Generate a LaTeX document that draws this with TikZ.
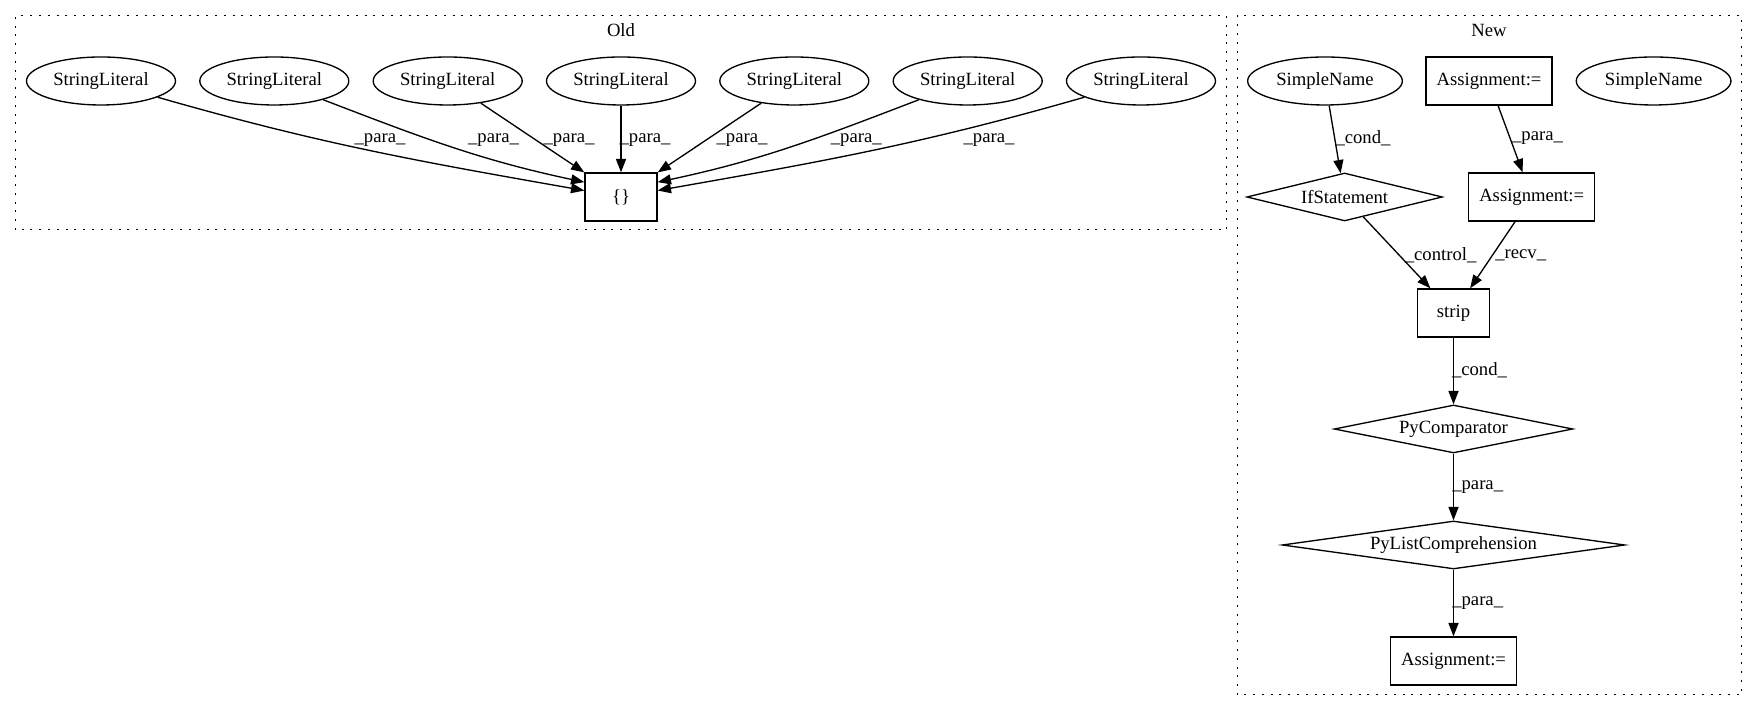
\documentclass[tikz,border=0pt]{standalone}
\usepackage{fontspec}
\setmainfont{Liberation Serif}
\usetikzlibrary{shapes.geometric,arrows.meta}

\begin{document}
\begin{tikzpicture}[x=0.75pt, y=0.75pt, line width=1pt,
  every node/.style={font=\fontsize{14pt}{16pt}\selectfont, inner sep=0pt},
  lit/.style={draw, ellipse, minimum width=111.75pt, minimum height=36pt},
  sname/.style={draw, ellipse, minimum width=116pt, minimum height=36pt},
  stmt/.style={draw, rectangle, minimum width=54pt, minimum height=36pt},
  cond/.style 2 args={draw, diamond, minimum width=#1pt, minimum height=36pt, aspect=#2},
  clust/.style={draw, line width=0.75pt, dash pattern=on 1.5pt off 5.1pt},
  edge/.style={-{Triangle[length=10pt, width=7.5pt]}}]
\useasboundingbox (0,0) rectangle (1757,712);

% Old
\draw[clust] (15.7,482) rectangle (1226.6,696.3);
\node (old) at (621,682) {Old};

\node[lit] (s1) at (101,631) {StringLiteral};
\node[lit] (s2) at (274.3,631) {StringLiteral};
\node[lit] (s3) at (447.7,631) {StringLiteral};
\node[lit] (s4) at (621,631) {StringLiteral};
\node[lit] (s5) at (794.3,631) {StringLiteral};
\node[lit] (s6) at (967.7,631) {StringLiteral};
\node[lit] (s7) at (1141,631) {StringLiteral};
\node[stmt] (box) at (621,515) {\{\}};

\draw[edge] (s1) to[out=-16, in=170] (box.170);
\draw[edge] (s2) to[out=-21, in=168] (box.158);
\draw[edge] (s3) -- (box);
\draw[edge] (s4) -- (box);
\draw[edge] (s5) -- (box);
\draw[edge] (s6) to[out=-159, in=12] (box.22);
\draw[edge] (s7) to[out=-164, in=10] (box.10);

\node (p1) at (380,572) {\_para\_};
\node (p2) at (493.5,572) {\_para\_};
\node (p3) at (569,572) {\_para\_};
\node (p4) at (645,572) {\_para\_};
\node (p5) at (742,572) {\_para\_};
\node (p6) at (856.3,572) {\_para\_};
\node (p7) at (989,572) {\_para\_};

% New
\draw[clust] (1237,17) rectangle (1741.5,696.3);
\node (new) at (1489,682) {New};

\node[sname] (sn1) at (1325,631) {SimpleName};
\node[stmt, minimum width=94.5pt] (a1) at (1489,631) {Assignment:=};
\node[sname] (sn2) at (1653.6,631) {SimpleName};
\node[cond={146.7}{4.07}] (ifs) at (1344.6,515) {IfStatement};
\node[stmt, minimum width=94.5pt] (a2) at (1531.7,515) {Assignment:=};
\node[stmt] (strip) at (1453.5,399) {strip};
\node[cond={179}{4.97}] (cmp) at (1453.5,283) {PyComparator};
\node[cond={257}{7.14}] (lc) at (1453.5,167) {PyListComprehension};
\node[stmt, minimum width=94.5pt] (a3) at (1453.5,51) {Assignment:=};

\draw[edge] (sn1) -- (ifs);
\draw[edge] (a1) -- (a2);
\draw[edge] (ifs) -- (strip);
\draw[edge] (a2) -- (strip);
\draw[edge] (strip) -- (cmp);
\draw[edge] (cmp) -- (lc);
\draw[edge] (lc) -- (a3);

\node (c1) at (1363,573.7) {\_cond\_};
\node (c2) at (1537.5,573.7) {\_para\_};
\node (c3) at (1440.6,457) {\_control\_};
\node (c4) at (1520.7,457) {\_recv\_};
\node (c5) at (1479.5,342) {\_cond\_};
\node (c6) at (1477.7,225.3) {\_para\_};
\node (c7) at (1477.7,108.7) {\_para\_};

\end{tikzpicture}
\end{document}
